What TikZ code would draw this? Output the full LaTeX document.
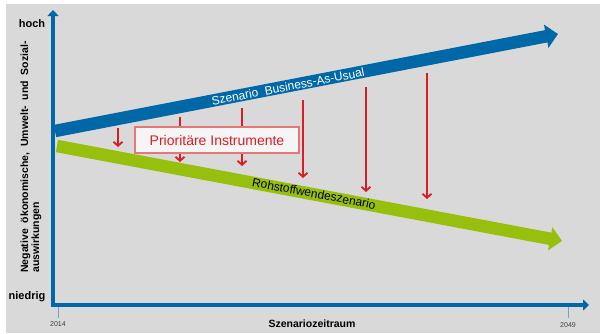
\documentclass[tikz,border=0pt]{standalone}
\usepackage{fontspec}
\setmainfont{Liberation Sans}
\usetikzlibrary{arrows.meta}

\definecolor{panel}{RGB}{217,217,217}
\definecolor{axisblue}{RGB}{0,104,166}
\definecolor{tickblue}{RGB}{110,165,205}
\definecolor{bandgreen}{RGB}{151,191,13}
\definecolor{instrred}{RGB}{214,30,36}
\definecolor{boxedge}{RGB}{228,120,120}

\tikzset{
  axis/.style={draw=axisblue, line width=4.5pt, line join=miter,
    {Triangle[length=6pt,width=11pt]}-{Triangle[length=6pt,width=11pt]}},
  tick/.style={draw=tickblue, line width=1pt},
  scenario/.style={line width=12.5pt, -{Triangle[length=12pt,width=23pt]}},
  lever/.style={draw=instrred, line width=1.8pt,
    -{Straight Barb[length=4pt,width=9pt]}},
  instrbox/.style={draw=boxedge, fill=white!96!black, line width=1.4pt,
    minimum width=164pt, minimum height=26pt, inner sep=0pt,
    text=instrred, font=\fontsize{14}{16}\selectfont},
  axislabel/.style={font=\bfseries\fontsize{11}{13}\selectfont, inner sep=0pt},
  yearlabel/.style={font=\fontsize{7}{8}\selectfont, text=black!75, inner sep=0pt},
  bandlabel/.style={font=\fontsize{12}{14}\selectfont, inner sep=0pt}
}

\begin{document}
\begin{tikzpicture}[x=1pt, y=-1pt]
  % panel and fixed frame
  \useasboundingbox (0,0) rectangle (600,333);
  \fill[panel] (6,4) rectangle (600,333);

  % key points
  \coordinate (top) at (53,10);
  \coordinate (origin) at (53,305);
  \coordinate (right) at (589,305);
  \coordinate (bauStart) at (55,131);
  \coordinate (bauEnd) at (558,34);
  \coordinate (rwStart) at (57,146);
  \coordinate (rwEnd) at (562,241);

  % scenario bands
  \draw[scenario, draw=axisblue] (bauStart) -- (bauEnd);
  \draw[scenario, draw=bandgreen] (rwStart) -- (rwEnd);

  \node[bandlabel, text=white, rotate=10.9] (bauLabel) at (288,86.5)
    {Szenario\ \ Business-As-Usual};
  \node[bandlabel, text=black, rotate=-10.6] (rwLabel) at (314,193.5)
    {Rohstoffwendeszenario};

  % effect of the instruments
  \coordinate (a1) at (118,128); \coordinate (b1) at (118,147);
  \coordinate (a2) at (180,117); \coordinate (b2) at (180,162);
  \coordinate (a3) at (242,108); \coordinate (b3) at (242,166);
  \coordinate (a4) at (303,100); \coordinate (b4) at (303,178);
  \coordinate (a5) at (366,87);  \coordinate (b5) at (366,192);
  \coordinate (a6) at (427,73);  \coordinate (b6) at (427,199);
  \foreach \i in {1,...,6} {\draw[lever] (a\i) -- (b\i);}

  \node[instrbox] (instr) at (217,140) {Prioritäre Instrumente};

  % axes
  \draw[axis] (top) -- (origin) -- (right);
  \coordinate (t1a) at (58,307); \coordinate (t1b) at (58,318);
  \coordinate (t2a) at (568,307); \coordinate (t2b) at (568,318);
  \draw[tick] (t1a) -- (t1b);
  \draw[tick] (t2a) -- (t2b);

  \node[yearlabel] (y2014) at (58,324) {2014};
  \node[yearlabel] (y2049) at (568,325) {2049};
  \node[axislabel] (hoch) at (32,24) {hoch};
  \node[axislabel] (niedrig) at (27,297) {niedrig};
  \node[font=\bfseries\fontsize{10.5}{12}\selectfont, inner sep=0pt] (xlabel) at (312,324) {Szenariozeitraum};
  \node[font=\bfseries\fontsize{10.5}{11}\selectfont, inner sep=0pt, align=left,
        rotate=90, anchor=west] (ylabel) at (31,273)
    {Negative\ \ ökonomische,\ \ Umwelt-\ \ und\ \ Sozial-\\auswirkungen};
\end{tikzpicture}
\end{document}
